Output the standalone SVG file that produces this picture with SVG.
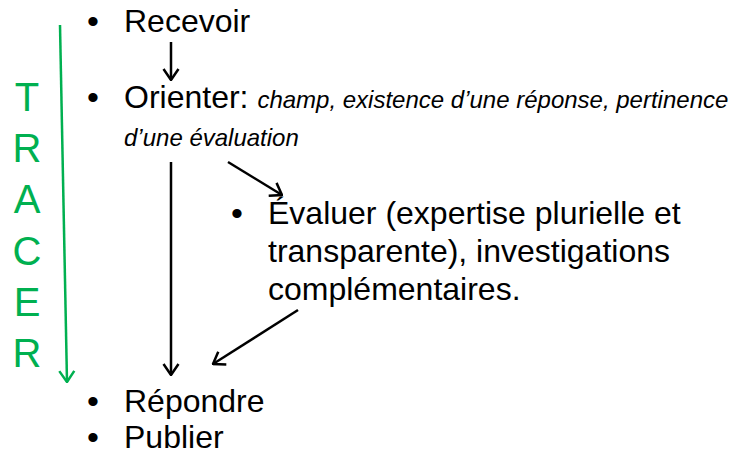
<svg xmlns="http://www.w3.org/2000/svg" width="734" height="461" viewBox="0 0 734 461">
<defs>
<style>
.t{font-family:"Liberation Sans",Arial,sans-serif;font-size:32px;fill:#000}
.i{font-family:"Liberation Sans",Arial,sans-serif;font-size:24px;font-style:italic;fill:#000}
.b{font-family:"Liberation Sans",Arial,sans-serif;font-size:34px;fill:#000;text-anchor:middle}
.g{font-family:"Liberation Sans",Arial,sans-serif;font-size:40px;fill:#00B050;text-anchor:middle}
.c{stroke:#000;stroke-width:2.5;fill:none}
.cg{stroke:#00B050;stroke-width:2.5;fill:none}
</style>
<marker id="ah" markerUnits="userSpaceOnUse" viewBox="0 0 13 18" refX="12" refY="9" markerWidth="13" markerHeight="18" orient="auto">
<path d="M1,1.5 L12,9 L1,16.5" fill="none" stroke="#000" stroke-width="2.5"/>
</marker>
<marker id="ahg" markerUnits="userSpaceOnUse" viewBox="0 0 13 18" refX="12" refY="9" markerWidth="13" markerHeight="18" orient="auto">
<path d="M1,1.5 L12,9 L1,16.5" fill="none" stroke="#00B050" stroke-width="2.5"/>
</marker>
</defs>
<rect width="734" height="461" fill="#fff"/>
<g id="tracer">
<text class="g" x="27" y="111">T</text>
<text class="g" x="27" y="162">R</text>
<text class="g" x="27" y="213">A</text>
<text class="g" x="27" y="265">C</text>
<text class="g" x="27" y="316">E</text>
<text class="g" x="27" y="367">R</text>
</g>
<g id="recevoir">
<text class="b" x="93" y="33">•</text>
<text class="t" x="124" y="32">Recevoir</text>
</g>
<g id="orienter">
<text class="b" x="93" y="109">•</text>
<text class="t" x="124" y="108">Orienter: <tspan class="i">champ, existence d’une réponse, pertinence</tspan></text>
<text class="i" x="124" y="146">d’une évaluation</text>
</g>
<g id="evaluer">
<text class="b" x="237" y="225">•</text>
<text class="t" x="268" y="224">Évaluer (expertise plurielle et</text>
<text class="t" x="268" y="262">transparente), investigations</text>
<text class="t" x="268" y="300">complémentaires.</text>
</g>
<g id="repondre">
<text class="b" x="93" y="413">•</text>
<text class="t" x="124" y="412">Répondre</text>
</g>
<g id="publier">
<text class="b" x="93" y="449">•</text>
<text class="t" x="124" y="448">Publier</text>
</g>
<g id="connectors">
<line class="cg" x1="60" y1="25" x2="67" y2="382" marker-end="url(#ahg)"/>
<line class="c" x1="171" y1="42" x2="171" y2="80" marker-end="url(#ah)"/>
<line class="c" x1="171" y1="162" x2="171" y2="375" marker-end="url(#ah)"/>
<line class="c" x1="228" y1="162" x2="282" y2="195" marker-end="url(#ah)"/>
<line class="c" x1="298" y1="310" x2="213" y2="364" marker-end="url(#ah)"/>
</g>
</svg>
